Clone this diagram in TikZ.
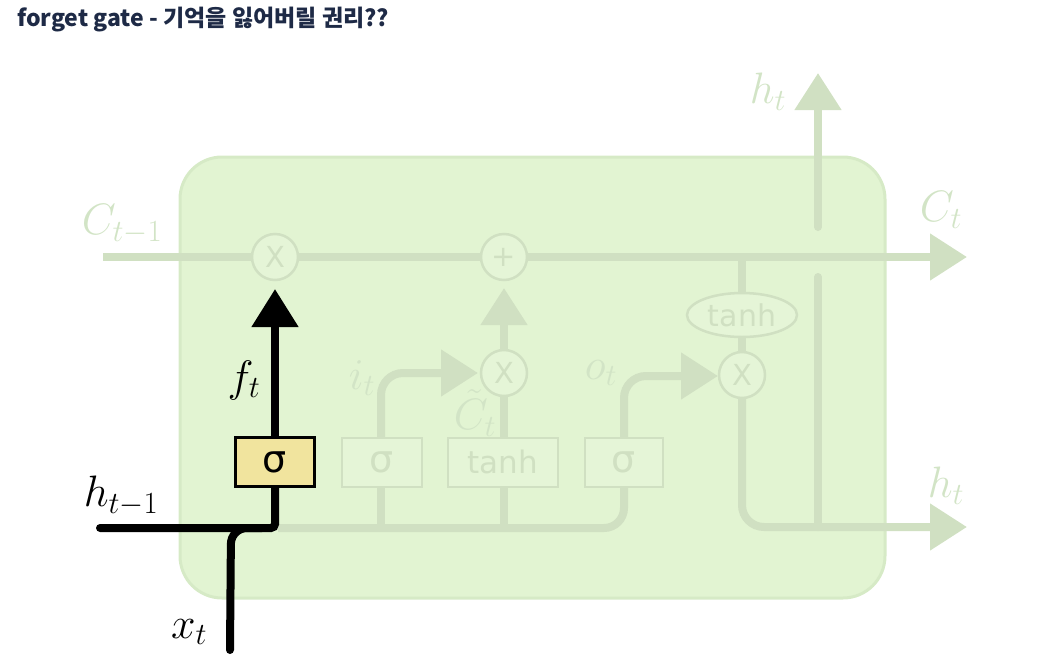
\RequirePackage{fix-cm}
\documentclass[tikz,border=0pt]{standalone}
\usepackage{fontspec}
\usetikzlibrary{arrows.meta,shapes.geometric}
\newfontfamily\krfont{Noto Sans CJK KR}
\newfontfamily\dvfont{DejaVu Sans}
\definecolor{bgfill}{RGB}{226,244,210}
\definecolor{bgedge}{RGB}{214,234,198}
\definecolor{fline}{RGB}{208,224,194}
\definecolor{flabel}{RGB}{210,228,198}
\definecolor{ffill}{RGB}{229,245,215}
\definecolor{ytfill}{RGB}{241,228,158}
\definecolor{titlec}{RGB}{30,42,70}
\tikzset{
  fl/.style={draw=fline, line width=8pt},
  bl/.style={draw=black, line width=8pt, line cap=round},
  farrow/.style={-{Triangle[length=37pt,width=45pt]}},
  opc/.style={circle, draw=fline, line width=2.5pt, fill=ffill, minimum size=46pt, inner sep=0pt,
    text=fline, font=\dvfont\fontsize{29}{29}\selectfont},
  fgate/.style={rectangle, draw=fline, line width=2pt, fill=ffill, minimum height=49pt,
    inner sep=0pt, text=fline},
  flab/.style={text=flabel, inner sep=0pt, font=\fontsize{44}{46}\selectfont},
  blab/.style={text=black, inner sep=0pt, font=\fontsize{44}{46}\selectfont},
}
\begin{document}
\begin{tikzpicture}[x=1pt,y=-1pt]
\useasboundingbox (0,0) rectangle (1047,667);
% title
\node[anchor=west, inner sep=0pt, text=titlec, font=\krfont\bfseries\fontsize{23}{25}\selectfont] (title) at (17,20) {forget gate - 기억을 잃어버릴 권리??};
% cell box
\draw[draw=bgedge, fill=bgfill, line width=3pt, rounded corners=42pt] (180,157) rectangle (885,598);
% coordinates
\coordinate (cin) at (103,257);
\coordinate (cout) at (967,257);
\coordinate (hout) at (967,527);
\coordinate (htop) at (818,73);
\coordinate (htopstart) at (818,227);
\coordinate (hvstart) at (818,277);
\coordinate (hvend) at (818,527);
\coordinate (hbl) at (278,528);
% faded lines
\draw[fl, rounded corners=20pt] (hbl) -- (624,528) -- (624,487);
\draw[fl] (381,528) -- (381,487);
\draw[fl] (504,528) -- (504,487);
\draw[fl, farrow] (cin) -- (cout);
\draw[fl, farrow, rounded corners=22pt] (381,438) |- (478,373);
\draw[fl, farrow, rounded corners=22pt] (624,438) |- (718,376);
\draw[fl] (504,438) -- (504,396);
\draw[fl, farrow] (504,350) -- (504,288);
\draw[fl] (742,257) -- (742,293);
\draw[fl] (742,337) -- (742,352);
\draw[fl, farrow, rounded corners=22pt] (742,398) |- (hout);
\draw[fl, line cap=round] (hvstart) -- (hvend);
\draw[fl, farrow, line cap=round] (htopstart) -- (htop);
% faded operation nodes
\node[opc] (mulf) at (275,257) {X};
\node[opc] (add) at (504,257) {+};
\node[opc] (muli) at (504,373) {X};
\node[opc] (mulo) at (742,375) {X};
\node[ellipse, draw=fline, line width=2.5pt, fill=ffill, minimum width=110pt, minimum height=44pt, inner sep=0pt,
  text=fline, font=\dvfont\fontsize{30}{30}\selectfont] (tanhc) at (742,315) {tanh};
\node[fgate, minimum width=80pt, font=\dvfont\fontsize{38}{38}\selectfont] (sigi) at (382,462) {σ};
\node[fgate, minimum width=110pt, font=\dvfont\fontsize{31}{31}\selectfont] (tanhg) at (503,462) {tanh};
\node[fgate, minimum width=78pt, font=\dvfont\fontsize{38}{38}\selectfont] (sigo) at (624,462) {σ};
% forget gate (highlighted)
\coordinate (hin) at (100,528);
\coordinate (xin) at (230,650);
\draw[bl, rounded corners=4pt] (hin) -- (275,528) -- (275,487);
\draw[bl, rounded corners=16pt] (xin) -- (231,528) -- (262,528);
\node[rectangle, draw=black, line width=2.2pt, fill=ytfill, minimum width=79pt, minimum height=49pt, inner sep=0pt,
  font=\dvfont\fontsize{38}{38}\selectfont] (sigf) at (275,462) {σ};
\draw[bl, line cap=butt, -{Triangle[length=38pt,width=45pt]}] (sigf.north) -- (275,289);
% labels
\node[flab] (lc1) at (122,224) {$C_{t-1}$};
\node[flab] (lct) at (941,210) {$C_t$};
\node[flab] (lht1) at (768,92) {$h_t$};
\node[flab] (lht2) at (946,486) {$h_t$};
\node[flab] (lit) at (362,378) {$i_t$};
\node[flab] (lctil) at (475,413) {$\tilde{C}_t$};
\node[flab] (lot) at (601,373) {$o_t$};
\node[blab] (lft) at (244,380) {$f_t$};
\node[blab] (lhm) at (121,496) {$h_{t-1}$};
\node[blab] (lxt) at (189,632) {$x_t$};
\end{tikzpicture}
\end{document}
